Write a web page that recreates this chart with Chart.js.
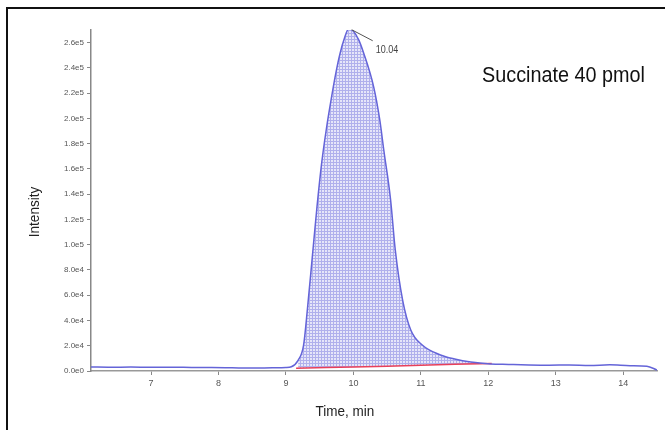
<!DOCTYPE html>
<html>
<head>
<meta charset="utf-8">
<script src="https://cdn.jsdelivr.net/npm/chart.js@4.4.1/dist/chart.umd.min.js"></script>
<style>
  html, body { margin: 0; padding: 0; background: #fff; }
  #wrap { position: relative; width: 665px; height: 430px; }
</style>
</head>
<body>
<div id="wrap"><canvas id="chrom" width="665" height="430"></canvas></div>
<script>
// XIC trace, time in minutes / intensity in counts
const timeMin = [6.11, 6.4, 6.7, 7.0, 7.3, 7.6, 7.9, 8.2, 8.5, 8.8, 9.0, 9.08, 9.18, 9.26, 9.32, 9.39, 9.46, 9.53, 9.6, 9.67, 9.74, 9.8, 9.87, 9.93, 10.0, 10.08, 10.15, 10.3, 10.39, 10.45, 10.55, 10.62, 10.73, 10.85, 11.02, 11.29, 11.5, 11.74, 12.03, 12.3, 12.6, 12.9, 13.2, 13.5, 13.8, 14.1, 14.35, 14.5];
const intensity = [3200, 3000, 3100, 2900, 3000, 2800, 2700, 2500, 2300, 2600, 2800, 3400, 8500, 20000, 50000, 90000, 130000, 165000, 192000, 215000, 236000, 251000, 264000, 271000, 269000, 262000, 252000, 225000, 199000, 175000, 136000, 96000, 56000, 32500, 20600, 12700, 9500, 7100, 5600, 5200, 4800, 4600, 4800, 4400, 4900, 4200, 3800, 800];

// integration baseline (red)
const baseTime = [9.15, 9.6, 10.0, 10.5, 11.0, 11.5, 12.05];
const baseValue = [2200, 2700, 3100, 3700, 4500, 5300, 6000];

const yTickValues = [0, 20000, 40000, 60000, 80000, 100000, 120000, 140000, 160000, 180000, 200000, 220000, 240000, 260000];
const xTickValues = [7, 8, 9, 10, 11, 12, 13, 14];

const peakLabel = '10.04';
const chartTitle = 'Succinate 40 pmol';
const xTitle = 'Time, min';
const yTitle = 'Intensity';

const sans = '"Liberation Sans", Arial, sans-serif';

// hatched fill for the integrated area
function hatch() {
  const c = document.createElement('canvas');
  c.width = 3; c.height = 3;
  const g = c.getContext('2d');
  g.fillStyle = '#e6e6f9';
  g.fillRect(0, 0, 3, 3);
  g.fillStyle = '#b0b0ec';
  g.fillRect(0, 0, 3, 1);
  g.fillRect(0, 0, 1, 3);
  return g.createPattern(c, 'repeat');
}

const trace = timeMin.map((t, i) => ({ x: t, y: intensity[i] }));
const baseline = baseTime.map((t, i) => ({ x: t, y: baseValue[i] }));
const areaPts = trace.filter(p => p.x >= baseTime[0] && p.x <= baseTime[baseTime.length - 1]);

// narrow-looking text: squeeze horizontally
function narrowText(ctx, txt, x, y, size, squeeze, align, angle) {
  ctx.save();
  ctx.translate(x, y);
  if (angle) ctx.rotate(angle);
  ctx.scale(squeeze, 1);
  ctx.font = size + 'px ' + sans;
  ctx.textAlign = align;
  ctx.textBaseline = 'middle';
  ctx.fillText(txt, 0, 0);
  ctx.restore();
}

const extras = {
  id: 'extras',
  beforeDraw(chart) {
    const ctx = chart.ctx;
    ctx.save();
    ctx.fillStyle = '#fff';
    ctx.fillRect(0, 0, chart.width, chart.height);
    ctx.restore();
  },
  afterDraw(chart) {
    const { ctx, scales: { x, y } } = chart;
    ctx.save();
    // frame
    ctx.fillStyle = '#111';
    ctx.fillRect(6, 7, 2, chart.height - 7);
    ctx.fillRect(6, 7, chart.width - 6, 2);

    // title + axis titles
    ctx.fillStyle = '#111';
    narrowText(ctx, chartTitle, 645, 76, 22, 0.9, 'right');
    ctx.fillStyle = '#222';
    narrowText(ctx, xTitle, 345, 412, 15, 0.9, 'center');
    narrowText(ctx, yTitle, 35, 212, 15, 0.9, 'center', -Math.PI / 2);

    // apex label
    let k = 0;
    intensity.forEach((v, i) => { if (v > intensity[k]) k = i; });
    const px = x.getPixelForValue(timeMin[k]);
    const py = y.getPixelForValue(intensity[k]);
    ctx.strokeStyle = '#555';
    ctx.lineWidth = 1;
    ctx.beginPath();
    ctx.moveTo(px + 3, py + 1);
    ctx.lineTo(px + 24, py + 12);
    ctx.stroke();
    ctx.fillStyle = '#444';
    narrowText(ctx, peakLabel, px + 27, py + 22, 10, 0.9, 'left');
    ctx.restore();
  }
};

new Chart(document.getElementById('chrom'), {
  type: 'line',
  data: {
    datasets: [
      {
        data: trace,
        borderColor: '#6464d8',
        borderWidth: 1.5,
        pointRadius: 0,
        cubicInterpolationMode: 'monotone',
        fill: false
      },
      {
        data: baseline,
        borderColor: '#e8405a',
        borderWidth: 1.5,
        pointRadius: 0,
        fill: false
      },
      {
        data: areaPts,
        borderWidth: 0,
        borderColor: 'rgba(0,0,0,0)',
        pointRadius: 0,
        cubicInterpolationMode: 'monotone',
        backgroundColor: hatch(),
        fill: { target: 1 }
      }
    ]
  },
  options: {
    responsive: false,
    animation: false,
    devicePixelRatio: 1,
    layout: { padding: { top: 30, right: 8, left: 0, bottom: 0 } },
    plugins: { legend: { display: false }, tooltip: { enabled: false } },
    scales: {
      x: {
        type: 'linear',
        min: 6.11,
        max: 14.5,
        afterFit: s => { s.height = 59; },
        afterBuildTicks: s => { s.ticks = xTickValues.map(v => ({ value: v })); },
        border: { color: '#999', width: 1.5 },
        grid: { drawOnChartArea: false, tickLength: 4, color: '#888' },
        ticks: {
          autoSkip: false,
          maxRotation: 0,
          padding: 3,
          color: '#555',
          font: { size: 9, family: sans }
        }
      },
      y: {
        min: 0,
        max: 270000,
        afterFit: s => { s.width = 91; },
        afterBuildTicks: s => { s.ticks = yTickValues.map(v => ({ value: v })); },
        border: { color: '#888', width: 1.5 },
        grid: { drawOnChartArea: false, tickLength: 4, color: '#888' },
        ticks: {
          autoSkip: false,
          padding: 3,
          color: '#555',
          font: { size: 8, family: sans },
          callback: v => v.toExponential(1).replace('+', '')
        }
      }
    }
  },
  plugins: [extras]
});
</script>
</body>
</html>
